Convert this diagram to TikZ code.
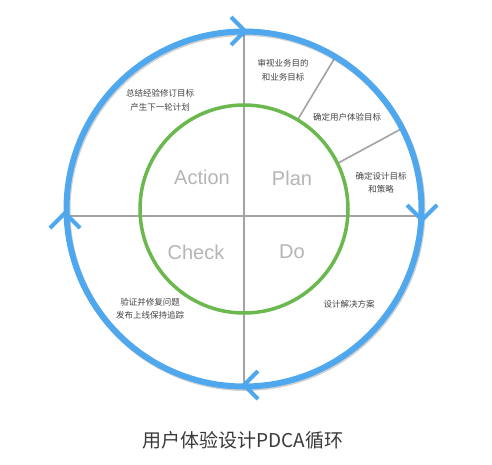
\documentclass[tikz,border=0pt]{standalone}
\usepackage{fontspec}
\usetikzlibrary{calc}
\newfontfamily\cjk{Noto Sans CJK SC}
\newfontfamily\lat{Liberation Sans}
\definecolor{pblue}{HTML}{4FA8EE}
\definecolor{pgreen}{HTML}{6BB84F}
\definecolor{pgray}{HTML}{A3A3A3}
\definecolor{ptext}{HTML}{444444}
\definecolor{plabel}{HTML}{B5B5B5}
\definecolor{ptitle}{HTML}{3A3A3A}
\begin{document}
\begin{tikzpicture}[x=1pt,y=-1pt,
  gline/.style={draw=pgray, line width=1.6pt},
  chev/.style={draw=pblue, line width=4pt, line join=miter},
  note/.style={text=ptext, align=center, inner sep=0pt, font=\cjk\fontsize{8.5}{13.5}\selectfont},
  phase/.style={text=plabel, inner sep=0pt, font=\lat\fontsize{20}{24}\selectfont},
  ring/.style={circle, inner sep=0pt, outer sep=0pt}]
\useasboundingbox (0,0) rectangle (492,464);
\fill[white] (0,0) rectangle (492,464);
\coordinate (c) at (244,209);
% cross lines
\draw[gline] (65,216) -- (422,216);
\draw[gline] (244,32) -- (244,386);
% diagonal dividers
\draw[gline] ($(c)+(-59:104)$) -- ($(c)+(-59:176)$);
\draw[gline] ($(c)+(-26:104)$) -- ($(c)+(-27:176)$);
% inner green ring
\node[ring, draw=pgreen, line width=3.5pt, minimum size=208pt] (inner) at (c) {};
% outer blue ring with shadow
\draw[black, opacity=0.18, line width=6pt] ($(c)+(1,1.5)$) circle[radius=177.5pt];
\node[ring, draw=pblue, line width=6pt, minimum size=355pt] (outer) at (c) {};
% chevrons
\draw[chev] (231,17) -- (245,31) -- (231,45);
\draw[chev] (407,205) -- (422,220) -- (437,205);
\draw[chev] (258,371) -- (244,385) -- (258,399);
\draw[chev] (50,228) -- (65,213) -- (80,228);
% phase labels
\node[phase] (act) at (202,177) {Action};
\node[phase] (pla) at (292,178) {Plan};
\node[phase] (chk) at (196,252) {Check};
\node[phase] (do) at (292,252) {Do};
% notes
\node[note] (n1) at (283,70) {审视业务目的\\和业务目标};
\node[note] (n2) at (347,117) {确定用户体验目标};
\node[note] (n3) at (381,182.5) {确定设计目标\\和策略};
\node[note] (n4) at (160,100.5) {总结经验修订目标\\产生下一轮计划};
\node[note] (n5) at (150,308.5) {验证并修复问题\\发布上线保持追踪};
\node[note] (n6) at (349,304) {设计解决方案};
% title
\node[text=ptitle, inner sep=0pt, font=\cjk\fontsize{19}{22}\selectfont] (title) at (243,440) {用户体验设计PDCA循环};
\end{tikzpicture}
\end{document}
